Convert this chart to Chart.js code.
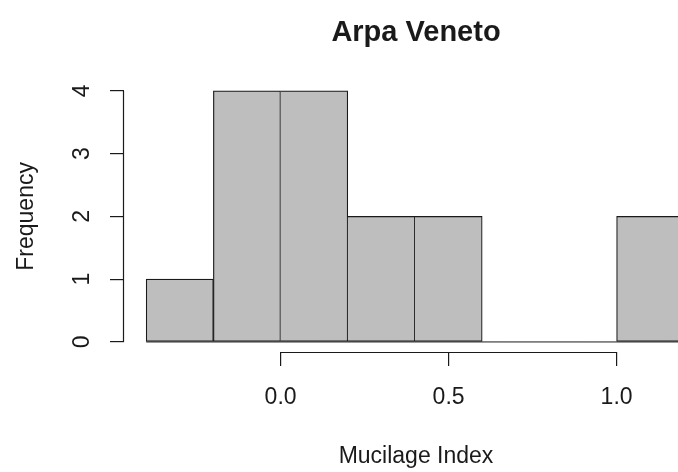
<!DOCTYPE html>
<html>
<head>
<meta charset="utf-8">
<script src="https://cdn.jsdelivr.net/npm/chart.js@4/dist/chart.umd.min.js"></script>
<style>
  html, body { margin: 0; padding: 0; background: #ffffff; overflow: hidden; }
  #wrap { width: 678px; height: 472px; overflow: hidden; position: relative; }
  #c { position: absolute; left: 0; top: 0; }
</style>
</head>
<body>
<div id="wrap"><canvas id="c" width="708" height="472"></canvas></div>
<script>
// ---- data ----
const chartTitle = 'Arpa Veneto';
const xAxisLabel = 'Mucilage Index';
const yAxisLabel = 'Frequency';
const binBreaks = [-0.4, -0.2, 0.0, 0.2, 0.4, 0.6, 0.8, 1.0, 1.2];
const binCounts = [1, 4, 4, 2, 2, 0, 0, 2];
const xTickValues = [0.0, 0.5, 1.0];
const yTickValues = [0, 1, 2, 3, 4];

// ---- derived ----
const barPoints = binCounts.map((c, i) => ({ x: (binBreaks[i] + binBreaks[i + 1]) / 2, y: c }));
const baseLine = [{ x: binBreaks[0], y: 0 }, { x: binBreaks[binBreaks.length - 1], y: 0 }];

const FONT = "'Liberation Sans', Arial, Helvetica, sans-serif";
const INK = '#1a1a1a';

const axisLinesPlugin = {
  id: 'axisLines',
  afterDraw(chart) {
    const ctx = chart.ctx;
    const xs = chart.scales.x, ys = chart.scales.y;
    ctx.save();
    ctx.strokeStyle = INK;
    ctx.lineWidth = 1.2;
    const yPix = Math.round(xs.top) + 0.5;
    ctx.beginPath();
    ctx.moveTo(xs.getPixelForValue(xTickValues[0]), yPix);
    ctx.lineTo(xs.getPixelForValue(xTickValues[xTickValues.length - 1]), yPix);
    ctx.stroke();
    const xPix = Math.round(ys.right) - 0.5;
    ctx.beginPath();
    ctx.moveTo(xPix, ys.getPixelForValue(yTickValues[0]));
    ctx.lineTo(xPix, ys.getPixelForValue(yTickValues[yTickValues.length - 1]));
    ctx.stroke();
    ctx.restore();
  }
};

new Chart(document.getElementById('c'), {
  data: {
    datasets: [
      {
        type: 'line',
        data: baseLine,
        borderColor: INK,
        borderWidth: 1,
        pointRadius: 0,
        order: 0
      },
      {
        type: 'bar',
        data: barPoints,
        backgroundColor: '#bebebe',
        borderColor: INK,
        borderWidth: 1.2,
        barPercentage: 1,
        categoryPercentage: 1,
        borderSkipped: (ctx) => {
          const i = ctx.dataIndex;
          return (i > 0 && binCounts[i - 1] >= binCounts[i]) ? 'left' : false;
        },
        order: 1
      }
    ]
  },
  options: {
    responsive: false,
    animation: false,
    layout: { padding: { left: 0, right: 0, top: 0, bottom: 0 } },
    plugins: {
      legend: { display: false },
      tooltip: { enabled: false },
      title: {
        display: true,
        fullSize: false,
        text: chartTitle,
        color: INK,
        font: { family: FONT, size: 29, weight: 'bold', lineHeight: 1.2 },
        padding: { top: 16, bottom: 30 }
      }
    },
    scales: {
      x: {
        type: 'linear',
        min: -0.466,
        max: 1.272,
        offset: false,
        afterFit(s) { s.height = 120; },
        afterBuildTicks(s) { s.ticks = xTickValues.map(v => ({ value: v })); },
        border: { display: false },
        grid: { offset: false, drawOnChartArea: false, drawTicks: true, tickLength: 14, color: INK, lineWidth: 1.2 },
        ticks: {
          color: INK,
          font: { family: FONT, size: 23 },
          padding: 18,
          maxRotation: 0,
          minRotation: 0,
          callback: (v) => Number(v).toFixed(1)
        },
        title: {
          display: true,
          text: xAxisLabel,
          color: INK,
          font: { family: FONT, size: 23 },
          padding: { top: 0, bottom: 2 }
        }
      },
      y: {
        type: 'linear',
        min: -0.16,
        max: 4.16,
        afterFit(s) { s.width = 124; },
        afterBuildTicks(s) { s.ticks = yTickValues.map(v => ({ value: v })); },
        border: { display: false },
        grid: { drawOnChartArea: false, drawTicks: true, tickLength: 14, color: INK, lineWidth: 1.2 },
        ticks: {
          color: INK,
          font: { family: FONT, size: 23 },
          padding: 21,
          minRotation: 90,
          maxRotation: 90,
          crossAlign: 'center',
          callback: (v) => String(v)
        },
        title: {
          display: true,
          text: yAxisLabel,
          color: INK,
          font: { family: FONT, size: 23 },
          padding: { top: 13, bottom: 0 }
        }
      }
    }
  },
  plugins: [axisLinesPlugin]
});
</script>
</body>
</html>
